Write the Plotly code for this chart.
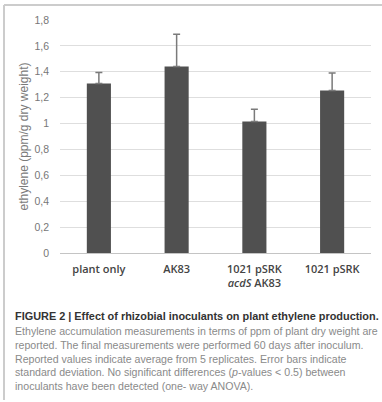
import plotly.graph_objects as go

categories = ["plant only", "AK83", "1021 pSRK<br><i>acdS</i> AK83", "1021 pSRK"]
values = [1.31, 1.44, 1.015, 1.255]
errors = [0.085, 0.25, 0.095, 0.135]
y_ticks = [0, 0.2, 0.4, 0.6, 0.8, 1.0, 1.2, 1.4, 1.6, 1.8]
y_tick_text = ["0", "0,2", "0,4", "0,6", "0,8", "1", "1,2", "1,4", "1,6", "1,8"]
caption_title = "FIGURE 2 | Effect of rhizobial inoculants on plant ethylene production."
caption_lines = [
    "Ethylene accumulation measurements in terms of ppm of plant dry weight are",
    "reported. The final measurements were performed 60 days after inoculum.",
    "Reported values indicate average from 5 replicates. Error bars indicate",
    "standard deviation. No significant differences (<i>p</i>-values < 0.5) between",
    "inoculants have been detected (one- way ANOVA).",
]

W, H = 382, 402
L, R, T, B = 60, 371, 20, 253

def px(x):
    return (x - L) / (R - L)

def py(y):
    return (B - y) / (B - T)

fig = go.Figure()
fig.add_trace(go.Bar(
    x=categories, y=values,
    marker=dict(color="#505050", line=dict(width=0)),
    error_y=dict(type="data", array=errors, symmetric=False, arrayminus=[0]*len(errors),
                 color="#7a7a7a", thickness=1.5, width=3.5),
    width=0.31,
))

annotations = []
annotations.append(dict(text="<b>" + caption_title + "</b>", x=px(13), y=py(316), xref="paper", yref="paper",
                        xanchor="left", yanchor="middle", showarrow=False,
                        font=dict(family="Liberation Sans, Arial", size=10.9, color="#333333")))
for i, line in enumerate(caption_lines):
    annotations.append(dict(text=line, x=px(13), y=py(331 + i * 13.8), xref="paper", yref="paper",
                            xanchor="left", yanchor="middle", showarrow=False,
                            font=dict(family="Liberation Sans, Arial", size=10.6, color="#8a8a8a")))

shapes = [
    dict(type="line", xref="paper", yref="paper", x0=px(4), x1=px(382), y0=py(5), y1=py(5),
         line=dict(color="#cccccc", width=2)),
    dict(type="line", xref="paper", yref="paper", x0=px(4), x1=px(4), y0=py(5), y1=py(400),
         line=dict(color="#cccccc", width=2)),
]

fig.update_layout(
    width=W, height=H,
    margin=dict(l=L, r=W - R, t=T, b=H - B, pad=0),
    paper_bgcolor="white", plot_bgcolor="white",
    showlegend=False,
    bargap=0.69,
    font=dict(family="Liberation Sans, Arial", color="#555555"),
    xaxis=dict(showgrid=False, showline=False, ticks="",
               tickfont=dict(size=11, color="#444444", family="Open Sans, Liberation Sans", weight=600),
               ticklabelstandoff=8),
    yaxis=dict(range=[0, 1.8], tickvals=y_ticks, ticktext=y_tick_text,
               showgrid=True, gridcolor="#dedede", gridwidth=1,
               zeroline=True, zerolinecolor="#c4c4c4", zerolinewidth=1,
               ticks="", showline=False, ticklabelstandoff=10,
               tickfont=dict(size=10.5, color="#777777"),
               title=dict(text="ethylene (ppm/g dry weight)", standoff=3,
                          font=dict(size=12, color="#7a7a7a"))),
    annotations=annotations,
    shapes=shapes,
)

fig.write_html("out.html", config={"displayModeBar": False},
               post_script="document.body.style.margin='0';document.body.style.padding='0';")
